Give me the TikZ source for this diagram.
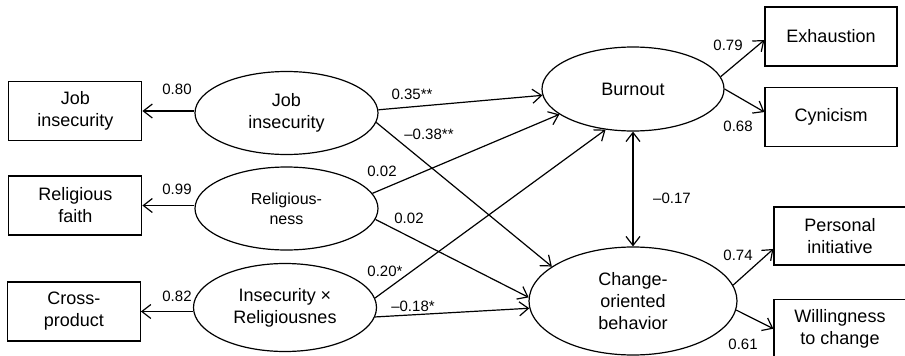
\documentclass[tikz,border=0pt]{standalone}
\usepackage{fontspec}
\setmainfont{Liberation Sans}
\usepackage{tikz}
\usetikzlibrary{arrows.meta,positioning,shapes.geometric}

\begin{document}
\begin{tikzpicture}[
    x=1pt, y=-1pt,
    node distance=20pt and 52pt,
    every node/.style={font=\fontsize{18}{22}\selectfont},
    ind/.style={draw, line width=1.2pt, minimum width=133pt, minimum height=59pt, inner sep=0pt, align=center},
    lat/.style={draw, ellipse, line width=1.2pt, minimum width=183pt, minimum height=83pt, inner sep=0pt, align=center},
    lbl/.style={font=\fontsize{15}{18}\selectfont, inner sep=0pt},
    arr/.style={-{Straight Barb[length=9pt,width=14pt]}, line width=1.2pt},
    biarr/.style={{Straight Barb[length=9pt,width=14pt]}-{Straight Barb[length=9pt,width=14pt]}, line width=1.2pt},
  ]
  \useasboundingbox (0,0) rectangle (905,356);

  % Latent variables
  \node[lat] (ji) at (286.5,113) {Job\\insecurity};
  \node[lat, font=\fontsize{16}{20}\selectfont] (rl) at (286.5,208.5) {Religious-\\ness};
  \node[lat, minimum height=88pt] (ix) at (285,307.5) {Insecurity × \\Religiousnes};
  \node[lat, minimum width=182pt, minimum height=84pt] (bo) at (633,89) {Burnout};
  \node[lat, minimum width=208pt, minimum height=108pt] (ch) at (633,301) {Change-\\oriented\\behavior};

  % Left indicators
  \node[ind, left=52pt of ji, yshift=2pt] (jbox) {Job\\insecurity};
  \node[ind, left=52pt of rl, yshift=3pt] (rbox) {Religious\\faith};
  \node[ind, left=52pt of ix, yshift=-4pt] (cbox) {Cross-\\product};

  % Right indicators
  \node[ind, minimum width=132pt] (ex) at (831,36.5) {Exhaustion};
  \node[ind, minimum width=132pt, below=20pt of ex] (cy) {Cynicism};
  \node[ind, minimum width=132pt, minimum height=58pt] (pi) at (840,236) {Personal\\initiative};
  \node[ind, minimum width=132pt, below=33pt of pi] (wi) {Willingness\\to change};

  % Loadings
  \draw[arr] (ji.west |- jbox) -- (jbox.east);
  \draw[arr] (rl.west |- rbox) -- (rbox.east);
  \draw[arr] (ix.west |- cbox) -- (cbox.east);
  \draw[arr] (bo.8) -- (ex.183);
  \draw[arr] (bo.east) -- (cy.176);
  \draw[arr] (ch.9) -- (pi.191);
  \draw[arr] (ch.-5) -- (wi.west);

  % Structural paths
  \draw[arr] (ji.2) -- (bo.184);
  \draw[arr] (ji.-6) -- (ch.157);
  \draw[arr] (rl.10) -- (bo.199);
  \draw[arr] (rl.-7) -- (ch.178);
  \draw[arr] (ix.6) -- (bo.236);
  \draw[arr] (ix.-6) -- (ch.184);
  \draw[biarr] (bo.south) -- (ch.north);

  % Coefficients
  \node[lbl] (l80) at (177,89) {0.80};
  \node[lbl] (l99) at (177,189) {0.99};
  \node[lbl] (l82) at (177,296) {0.82};
  \node[lbl] (l35) at (412,94) {0.35**};
  \node[lbl] (l38) at (429,134) {–0.38**};
  \node[lbl] (l02a) at (382,171) {0.02};
  \node[lbl] (l02b) at (409,218) {0.02};
  \node[lbl] (l20) at (385,271) {0.20*};
  \node[lbl] (l18) at (413,306) {–0.18*};
  \node[lbl] (l17) at (672,198) {–0.17};
  \node[lbl] (l79) at (728,45) {0.79};
  \node[lbl] (l68) at (738,126) {0.68};
  \node[lbl] (l74) at (738,255) {0.74};
  \node[lbl] (l61) at (743,344) {0.61};

\end{tikzpicture}
\end{document}
